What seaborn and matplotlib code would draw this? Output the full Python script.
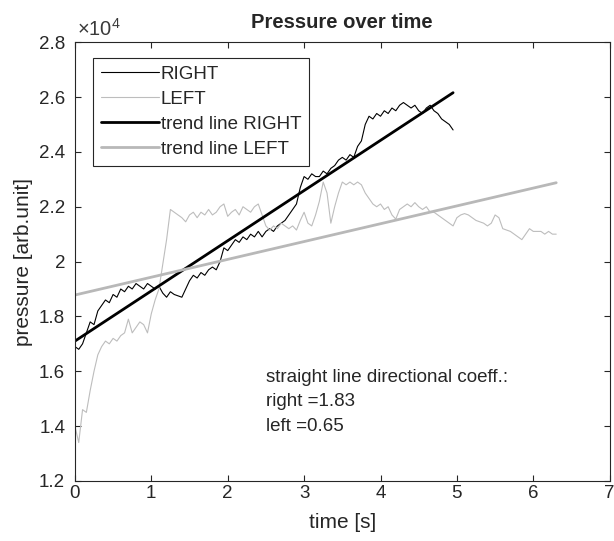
import numpy as np
import pandas as pd
import matplotlib
matplotlib.use("Agg")
import matplotlib.pyplot as plt
import seaborn as sns
from matplotlib.ticker import FuncFormatter

# sampled pressure readings (x1e4), one every 0.05 s
right_vals = [
    1.69, 1.68, 1.70, 1.74, 1.78, 1.77, 1.82, 1.84, 1.86, 1.85,
    1.88, 1.87, 1.90, 1.89, 1.91, 1.90, 1.92, 1.91, 1.90, 1.92,
    1.91, 1.90, 1.91, 1.885, 1.87, 1.89, 1.88, 1.875, 1.87, 1.90,
    1.93, 1.95, 1.94, 1.96, 1.95, 1.97, 1.98, 1.97, 2.00, 2.05,
    2.04, 2.06, 2.08, 2.07, 2.09, 2.08, 2.10, 2.09, 2.11, 2.09,
    2.11, 2.12, 2.11, 2.13, 2.14, 2.15, 2.17, 2.19, 2.21, 2.27,
    2.31, 2.30, 2.32, 2.31, 2.31, 2.33, 2.32, 2.34, 2.35, 2.37,
    2.38, 2.37, 2.39, 2.38, 2.42, 2.44, 2.50, 2.53, 2.52, 2.54,
    2.53, 2.55, 2.54, 2.56, 2.55, 2.57, 2.58, 2.57, 2.56, 2.57,
    2.55, 2.54, 2.56, 2.57, 2.55, 2.54, 2.52, 2.51, 2.50, 2.48,
]
left_vals = [
    1.40, 1.34, 1.46, 1.45, 1.53, 1.60, 1.66, 1.69, 1.71, 1.70,
    1.72, 1.71, 1.73, 1.74, 1.79, 1.74, 1.76, 1.78, 1.77, 1.74,
    1.81, 1.86, 1.90, 1.99, 2.08, 2.19, 2.18, 2.17, 2.16, 2.145,
    2.17, 2.18, 2.16, 2.18, 2.17, 2.19, 2.17, 2.18, 2.20, 2.21,
    2.165, 2.18, 2.19, 2.17, 2.20, 2.19, 2.18, 2.20, 2.21, 2.17,
    2.13, 2.115, 2.13, 2.12, 2.14, 2.13, 2.12, 2.13, 2.115, 2.15,
    2.18, 2.14, 2.13, 2.17, 2.22, 2.29, 2.25, 2.14, 2.20, 2.25,
    2.29, 2.28, 2.29, 2.28, 2.29, 2.28, 2.25, 2.23, 2.21, 2.20,
    2.21, 2.19, 2.20, 2.17, 2.155, 2.19, 2.20, 2.21, 2.20, 2.215,
    2.20, 2.19, 2.20, 2.18, 2.18, 2.17, 2.16, 2.15, 2.14, 2.13,
    2.16, 2.17, 2.175, 2.17, 2.16, 2.15, 2.145, 2.14, 2.13, 2.14,
    2.17, 2.16, 2.12, 2.115, 2.11, 2.10, 2.09, 2.08, 2.10, 2.12,
    2.11, 2.11, 2.11, 2.10, 2.11, 2.10, 2.10,
]
sample_step = 0.05

# fitted straight lines: intercept and slope per second
right_fit = (17100, 1830)
left_fit = (18780, 650)

t_right = np.arange(len(right_vals)) * sample_step
t_left = np.arange(len(left_vals)) * sample_step
df_right = pd.DataFrame({"t": t_right, "p": np.array(right_vals) * 1e4})
df_left = pd.DataFrame({"t": t_left, "p": np.array(left_vals) * 1e4})

def trend_frame(t, fit):
    tt = np.array([t[0], t[-1]])
    return pd.DataFrame({"t": tt, "p": fit[0] + fit[1] * tt})

sns.set_style("ticks")
plt.rcParams["font.family"] = ["Liberation Sans", "DejaVu Sans"]
plt.rcParams["mathtext.fontset"] = "custom"
plt.rcParams["mathtext.rm"] = "Liberation Sans"

txt = "#262626"
fig = plt.figure(figsize=(6.14, 5.41), dpi=100)
ax = fig.add_axes([0.122, 0.111, 0.871, 0.811])

sns.lineplot(data=df_right, x="t", y="p", ax=ax, color="black", lw=0.8, label="RIGHT")
sns.lineplot(data=df_left, x="t", y="p", ax=ax, color="#bdbdbd", lw=0.8, label="LEFT")
sns.lineplot(data=trend_frame(t_right, right_fit), x="t", y="p", ax=ax,
             color="black", lw=2.0, label="trend line RIGHT")
sns.lineplot(data=trend_frame(t_left, left_fit), x="t", y="p", ax=ax,
             color="#b8b8b8", lw=2.0, label="trend line LEFT")

ax.set_xlim(0, 7)
ax.set_ylim(12000, 28000)
ax.set_xticks(range(0, 8))
ax.set_yticks(np.arange(12000, 28001, 2000))
# MATLAB-style exponent: ticks in units of 1e4, "x10^4" above the axis
ax.yaxis.set_major_formatter(FuncFormatter(lambda v, _: "%g" % round(v / 1e4, 2)))
ax.text(0.004, 1.006, r"$\times\mathregular{10^{4}}$", transform=ax.transAxes,
        fontsize=14.5, color="#3a3a3a", ha="left", va="bottom")

for side in ["top", "right", "left", "bottom"]:
    ax.spines[side].set_visible(True)
    ax.spines[side].set_color(txt)
    ax.spines[side].set_linewidth(0.8)
ax.tick_params(direction="in", top=True, right=True, length=4, width=0.8,
               labelsize=13.5, colors=txt, labelcolor=txt)
ax.tick_params(axis="y", pad=7)
ax.tick_params(axis="x", pad=3)

ax.set_title("Pressure over time", fontsize=14.5, fontweight="bold", pad=10)
ax.set_xlabel("time [s]", fontsize=15, color=txt, labelpad=8)
ax.set_ylabel("pressure [arb.unit]", fontsize=15, color=txt, labelpad=4)

ax.text(2.5, 16100,
        "straight line directional coeff.:\nright =%.2f\nleft =%.2f"
        % (right_fit[1] / 1000, left_fit[1] / 1000),
        fontsize=13.5, va="top", ha="left", linespacing=1.6, color=txt)

leg = ax.legend(loc="upper left", bbox_to_anchor=(0.034, 0.963), fontsize=13.5,
                frameon=True, fancybox=False, shadow=False, handlelength=3.1,
                handletextpad=0.1, borderpad=0.4, labelspacing=0.42,
                borderaxespad=0)
leg.get_frame().set_edgecolor(txt)
leg.get_frame().set_linewidth(0.8)
leg.get_frame().set_alpha(1)

plt.savefig("out.png", dpi=100)
plt.close()
